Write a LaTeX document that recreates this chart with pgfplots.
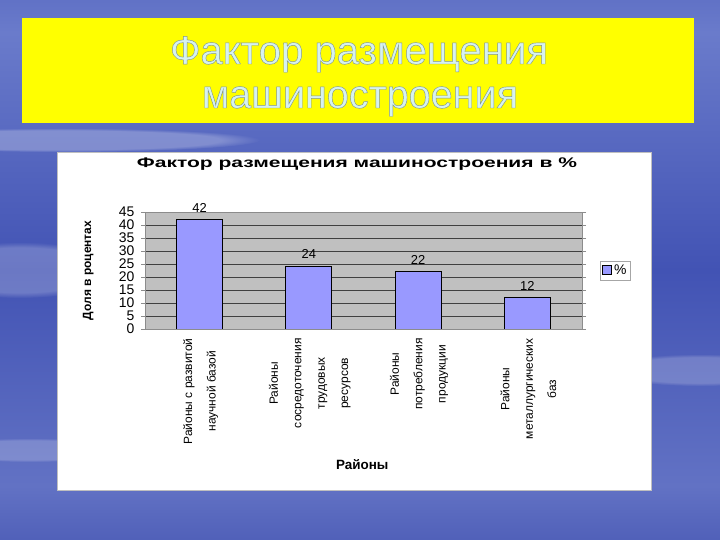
\documentclass[border=0pt]{standalone}
\usepackage{pgfplots}
\pgfplotsset{compat=1.18}
\usepackage{graphicx}
\usepackage{fontspec}
\setmainfont{Liberation Sans}
\usetikzlibrary{fadings}
\definecolor{barblue}{HTML}{9999FF}
\definecolor{plotgrey}{HTML}{C0C0C0}
\definecolor{banner}{HTML}{FFFF00}
\definecolor{titletxt}{HTML}{D6F2F0}
\definecolor{bgA}{HTML}{24339C}
\definecolor{bgB}{HTML}{6A7BCB}
\definecolor{bgC}{HTML}{4253B4}
\definecolor{bgD}{HTML}{6272C4}
\definecolor{bgE}{HTML}{2A3AA2}
\pgfdeclareverticalshading{slidebg}{100bp}{color(0bp)=(bgE); color(12bp)=(bgA); color(30bp)=(bgD); color(50bp)=(bgC); color(72bp)=(bgB); color(85bp)=(bgC); color(100bp)=(bgA)}
\newcommand{\bannertext}[1]{{\color{titletxt}\special{pdf:literal 0.50 0.58 0.57 RG 0.45 w 2 Tr}#1\special{pdf:literal 0 Tr}}}
\begin{document}
\begin{tikzpicture}[x=1bp,y=1bp]
\useasboundingbox (0,0) rectangle (720,540);
% slide background
\begin{scope}
\clip (0,0) rectangle (720,540);
\shade[shading=slidebg] (0,0) rectangle (720,540);
\fill[white, fill opacity=0.25, path fading=circle with fuzzy edge 20 percent] (60,400) ellipse [x radius=200, y radius=12];
\fill[white, fill opacity=0.22, path fading=circle with fuzzy edge 20 percent] (20,270) ellipse [x radius=100, y radius=28];
\fill[white, fill opacity=0.20, path fading=circle with fuzzy edge 20 percent] (700,170) ellipse [x radius=100, y radius=16];
\fill[white, fill opacity=0.20, path fading=circle with fuzzy edge 20 percent] (30,90) ellipse [x radius=100, y radius=12];
\end{scope}
% banner
\fill[banner] (22,417) rectangle (694,522);
\node[anchor=base, inner sep=0pt] at (359,476) {\resizebox{378bp}{\height}{\fontsize{40}{40}\selectfont\bannertext{Фактор размещения}}};
\node[anchor=base, inner sep=0pt] at (360,432) {\resizebox{316bp}{\height}{\fontsize{40}{40}\selectfont\bannertext{машиностроения}}};
% chart area
\fill[white, draw=black!25] (57,50) rectangle (651,388);
\begin{axis}[
  at={(145bp,211bp)}, anchor=south west,
  scale only axis, width=437bp, height=117bp,
  xmin=0, xmax=4, ymin=0, ymax=45,
  ytick={0,5,...,45},
  xtick={0.5,1.5,2.5,3.5},
  xticklabels={{Районы с развитой\\научной базой},{Районы\\сосредоточения\\трудовых\\ресурсов},{Районы\\потребления\\продукции},{Районы\\металлургических\\баз}},
  xticklabel style={rotate=90, anchor=east, align=center, font=\fontsize{12}{23.5}\selectfont, xshift=-2bp, yshift=-1bp},
  x tick style={draw=none},
  extra x ticks={0,1,2,3,4},
  extra x tick labels={},
  extra x tick style={major tick length=4bp, tick style={draw=black!45}, tick align=outside, grid=none},
  y tick style={draw=black!45},
  tick align=outside, major tick length=4bp,
  yticklabel style={font=\fontsize{14}{14}\selectfont, xshift=-3bp},
  /pgf/number format/assume math mode=true,
  axis background/.style={fill=plotgrey},
  axis line style={draw=black!45},
  ymajorgrids, grid style={draw=black!75, line width=0.6bp},
  title={\resizebox{440bp}{\height}{\bfseries\fontsize{14}{14}\selectfont Фактор размещения машиностроения в \%}},
  title style={at={(axis description cs:0.485,1.359)}, anchor=center},
  xlabel={\bfseries Районы},
  xlabel style={at={(axis description cs:0.497,-1.162)}, anchor=center, font=\fontsize{13.5}{13.5}\selectfont},
  ylabel={\bfseries Доля в роцентах},
  ylabel style={at={(axis description cs:-0.130,0.5)}, anchor=center, rotate=0, font=\fontsize{12}{12}\selectfont},
  nodes near coords,
  nodes near coords style={anchor=south, yshift=4bp, font=\fontsize{13}{13}\selectfont, text=black},
  legend style={at={(1.041,0.5)}, anchor=west, draw=black!35, font=\fontsize{14}{14}\selectfont, inner sep=2bp, row sep=0pt},
  legend image code/.code={\draw[#1] (0bp,-4bp) rectangle (9bp,5bp);},
]
\addplot[ybar, bar width=46bp, fill=barblue, draw=black, line width=0.9bp] coordinates {(0.5,42) (1.5,24) (2.5,22) (3.5,12)};
\addlegendentry{\%}
\end{axis}
\end{tikzpicture}
\end{document}
